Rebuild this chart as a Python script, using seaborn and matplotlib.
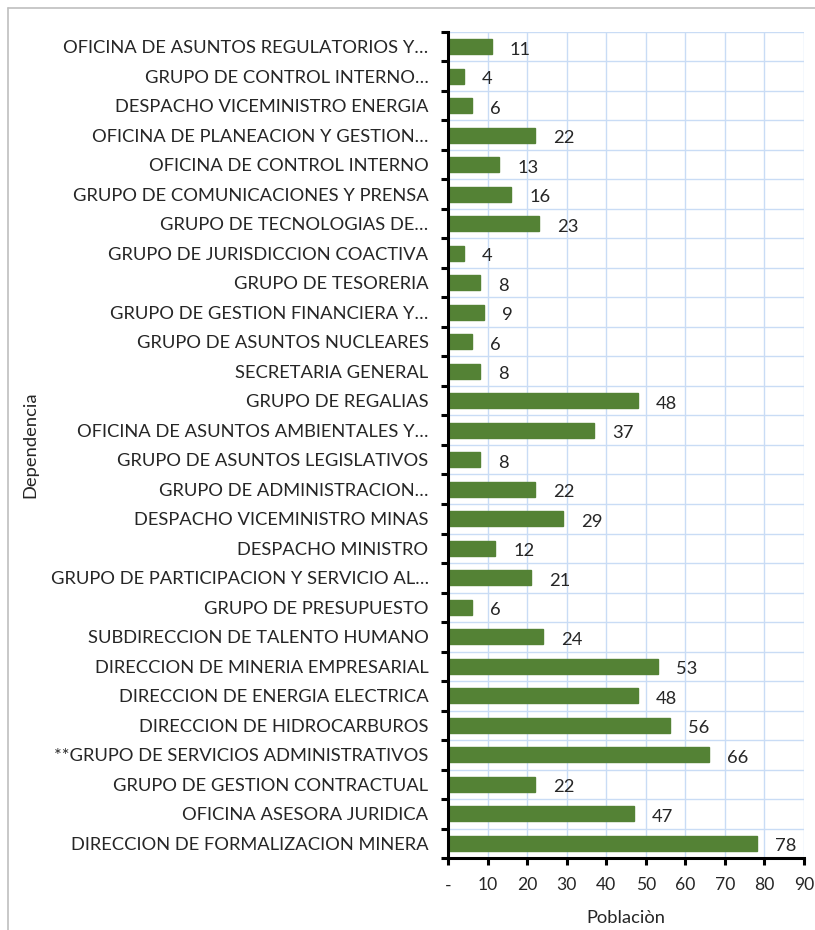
import matplotlib
matplotlib.use("Agg")
import matplotlib.pyplot as plt
import seaborn as sns
import pandas as pd
import numpy as np
from matplotlib.lines import Line2D

# Dependencias (top to bottom as shown)
dependencias = [
    "OFICINA DE ASUNTOS REGULATORIOS Y…",
    "GRUPO DE CONTROL INTERNO…",
    "DESPACHO VICEMINISTRO ENERGIA",
    "OFICINA DE PLANEACION Y GESTION…",
    "OFICINA DE CONTROL INTERNO",
    "GRUPO DE COMUNICACIONES Y PRENSA",
    "GRUPO DE TECNOLOGIAS DE…",
    "GRUPO DE JURISDICCION COACTIVA",
    "GRUPO DE TESORERIA",
    "GRUPO DE GESTION FINANCIERA Y…",
    "GRUPO DE ASUNTOS NUCLEARES",
    "SECRETARIA GENERAL",
    "GRUPO DE REGALIAS",
    "OFICINA DE ASUNTOS AMBIENTALES Y…",
    "GRUPO DE ASUNTOS LEGISLATIVOS",
    "GRUPO DE ADMINISTRACION…",
    "DESPACHO VICEMINISTRO MINAS",
    "DESPACHO MINISTRO",
    "GRUPO DE PARTICIPACION Y SERVICIO AL…",
    "GRUPO DE PRESUPUESTO",
    "SUBDIRECCION DE TALENTO HUMANO",
    "DIRECCION DE MINERIA EMPRESARIAL",
    "DIRECCION DE ENERGIA ELECTRICA",
    "DIRECCION DE HIDROCARBUROS",
    "**GRUPO DE SERVICIOS ADMINISTRATIVOS",
    "GRUPO DE GESTION CONTRACTUAL",
    "OFICINA ASESORA JURIDICA",
    "DIRECCION DE FORMALIZACION MINERA",
]
poblacion = [11, 4, 6, 22, 13, 16, 23, 4, 8, 9, 6, 8, 48, 37, 8, 22, 29, 12,
             21, 6, 24, 53, 48, 56, 66, 22, 47, 78]

x_ticks = [0, 10, 20, 30, 40, 50, 60, 70, 80, 90]
x_ticklabels = ["-", "10", "20", "30", "40", "50", "60", "70", "80", "90"]

df = pd.DataFrame({"Dependencia": dependencias, "Poblacion": poblacion})

sns.set_style("white")
plt.rcParams["font.family"] = ["Lato", "DejaVu Sans"]
fs = 13.2

fig = plt.figure(figsize=(8.15, 9.3), dpi=100)
ax = fig.add_axes([448 / 815, 1 - 858 / 930, (804 - 448) / 815, (858 - 32) / 930])

sns.barplot(data=df, x="Poblacion", y="Dependencia", color="#548235",
            width=0.52, saturation=1, ax=ax, edgecolor="#548235")

n = len(dependencias)
ax.set_xlim(0, 90)
ax.set_ylim(n - 0.5, -0.5)

# grid like Excel: vertical at major ticks, horizontal at category boundaries
ax.set_xticks(x_ticks)
ax.set_xticklabels(x_ticklabels, fontsize=12.6)
ax.set_yticks(np.arange(n))
ax.set_yticklabels(dependencias, fontsize=fs)
ax.set_yticks(np.arange(n + 1) - 0.5, minor=True)
ax.tick_params(axis="y", which="major", left=True, length=0, pad=14)
ax.tick_params(axis="y", which="minor", left=True, length=5, width=2.2,
               color="black", direction="out")
ax.tick_params(axis="x", which="major", bottom=True, length=5, width=2.2,
               color="black", direction="out", pad=9)

for v in x_ticks[1:]:
    ax.axvline(v, color="#c9dcf5", lw=1, zorder=0)
for b in np.arange(n + 1) - 0.5:
    ax.axhline(b, color="#c9dcf5", lw=1, zorder=0)

for s in ["top", "right"]:
    ax.spines[s].set_visible(False)
for s in ["left", "bottom"]:
    ax.spines[s].set_color("black")
    ax.spines[s].set_linewidth(2.2)

for i, v in enumerate(poblacion):
    ax.annotate(str(v), xy=(v, i), xytext=(13, -2), textcoords="offset points",
                va="center", ha="left", fontsize=fs)

ax.set_xlabel("Poblaciòn", fontsize=fs, labelpad=12)
ax.set_ylabel("")
fig.text(30 / 815, 1 - 445 / 930, "Dependencia", rotation=90, va="center",
         ha="center", fontsize=fs)

# outer frame lines
fig.add_artist(Line2D([8 / 815, 1], [1 - 8 / 930, 1 - 8 / 930], color="#bfbfbf", lw=1.2,
                      transform=fig.transFigure))
fig.add_artist(Line2D([8 / 815, 8 / 815], [0, 1 - 8 / 930], color="#bfbfbf", lw=1.2,
                      transform=fig.transFigure))

fig.savefig("out.png", dpi=100)
